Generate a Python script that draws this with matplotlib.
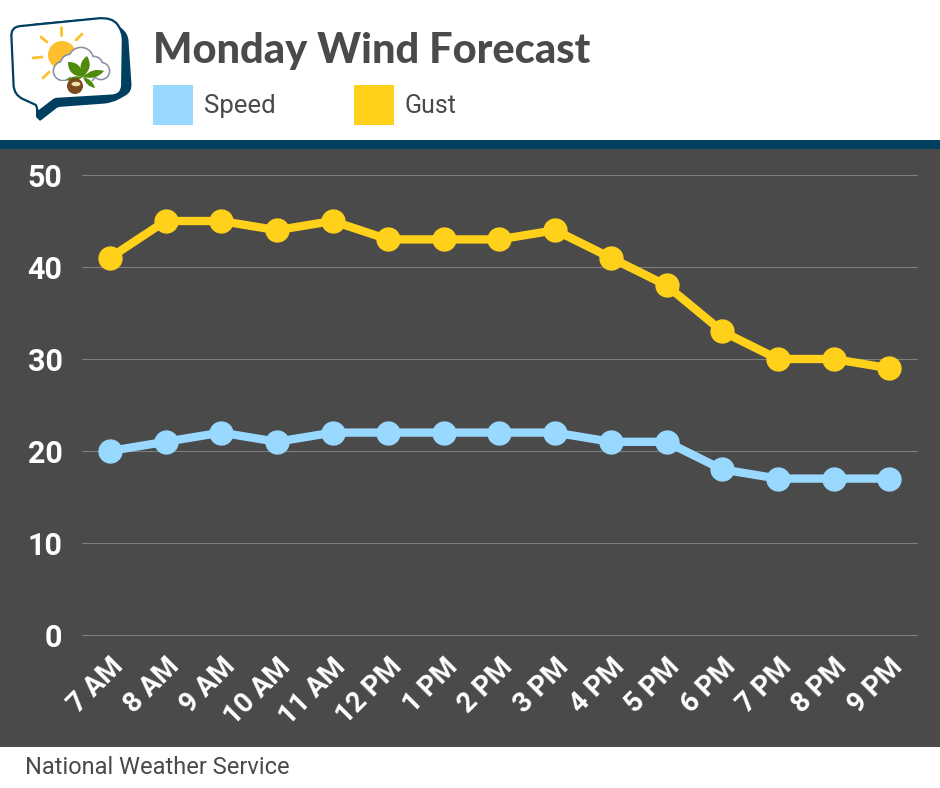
import matplotlib
matplotlib.use("Agg")
import matplotlib.pyplot as plt
import matplotlib.patches as mpatches
from matplotlib.path import Path
import numpy as np

hours = ["7 AM", "8 AM", "9 AM", "10 AM", "11 AM", "12 PM", "1 PM", "2 PM",
         "3 PM", "4 PM", "5 PM", "6 PM", "7 PM", "8 PM", "9 PM"]
speed = [20, 21, 22, 21, 22, 22, 22, 22, 22, 21, 21, 18, 17, 17, 17]
gust = [41, 45, 45, 44, 45, 43, 43, 43, 44, 41, 38, 33, 30, 30, 29]
y_ticks = [0, 10, 20, 30, 40, 50]

W, H = 940, 788
DARK = "#4a4a4a"
NAVY = "#003f5f"
SPEED_C = "#99d9ff"
GUST_C = "#ffd11a"
SUN = "#fdbf2d"
LEAF = "#4f8a0b"
FONT = "Roboto"

fig = plt.figure(figsize=(W / 100, H / 100), dpi=100, facecolor="white")

# background layer in pixel coords
bg = fig.add_axes([0, 0, 1, 1])
bg.set_xlim(0, W)
bg.set_ylim(H, 0)
bg.axis("off")
bg.add_patch(mpatches.Rectangle((0, 140), W, 9, color=NAVY, lw=0))
bg.add_patch(mpatches.Rectangle((0, 149), W, 598, color=DARK, lw=0))

# header
bg.text(153, 51, "Monday Wind Forecast", fontsize=30, fontweight="black",
        color=DARK, family="Lato", va="center", ha="left")
bg.add_patch(mpatches.Rectangle((153, 85), 40, 40, color=SPEED_C, lw=0))
bg.add_patch(mpatches.Rectangle((354, 85), 40, 40, color=GUST_C, lw=0))
bg.text(204, 106, "Speed", fontsize=18.5, color=DARK, family=FONT, va="center")
bg.text(405, 106, "Gust", fontsize=18, color=DARK, family=FONT, va="center")
bg.text(25, 767, "National Weather Service", fontsize=17, color=DARK,
        family=FONT, va="center")


def rounded(pts, radii, **kw):
    # closed polygon whose corners are cut with quadratic curves
    pts = [np.array(p, float) for p in pts]
    n = len(pts)
    verts, codes = [], []
    for i, p in enumerate(pts):
        a = pts[i - 1] - p
        b = pts[(i + 1) % n] - p
        r = radii[i]
        start = p + a / np.linalg.norm(a) * min(r, np.linalg.norm(a) / 2)
        end = p + b / np.linalg.norm(b) * min(r, np.linalg.norm(b) / 2)
        verts += [start, p, end]
        codes += [Path.MOVETO if i == 0 else Path.LINETO, Path.CURVE3, Path.CURVE3]
    verts.append(verts[0])
    codes.append(Path.CLOSEPOLY)
    bg.add_patch(mpatches.PathPatch(Path(verts, codes), **kw))


def leaf(base, tip, width):
    base, tip = np.array(base, float), np.array(tip, float)
    d = tip - base
    n = np.array([-d[1], d[0]]) / np.linalg.norm(d) * width
    mid = base + d * 0.55
    path = Path([base, mid + n, tip, mid - n, base],
                [Path.MOVETO, Path.CURVE3, Path.CURVE3, Path.CURVE3, Path.CURVE3])
    bg.add_patch(mpatches.PathPatch(path, facecolor=LEAF, edgecolor="none"))


# logo: speech bubble with shadow, sun, cloud, leaves, chestnut
rounded([(30, 24), (106, 17), (128, 33), (132, 92), (112, 103), (58, 107),
         (40, 121), (36, 117), (36, 100), (20, 90)],
        [6, 12, 8, 8, 8, 2, 1, 1, 6, 6],
        facecolor=NAVY, edgecolor="none")
rounded([(11, 27), (112, 17), (123, 32), (122, 95), (55, 99), (38, 112),
         (36, 105), (14, 95)],
        [9, 14, 9, 10, 2, 1, 1, 10],
        facecolor="white", edgecolor=NAVY, lw=1.6)
bg.add_patch(mpatches.Circle((62, 55), 14, color=SUN, lw=0))
for x0, y0, x1, y1 in [(61, 27, 61, 35), (41, 37, 47, 42), (33, 58, 42, 57),
                       (43, 78, 49, 72), (76, 40, 82, 34)]:
    bg.plot([x0, x1], [y0, y1], color=SUN, lw=2, solid_capstyle="round")

# cloud outline, grey rim first and white inside on top
cloud = [(63, 71, 9), (70, 64, 9), (81, 60, 12), (94, 65, 8), (101, 71, 8), (82, 72, 13)]
for cx, cy, r in cloud:
    bg.add_patch(mpatches.Circle((cx, cy), r + 1.4, color="#8a8fa3", lw=0))
for cx, cy, r in cloud:
    bg.add_patch(mpatches.Circle((cx, cy), r - 0.2, color="white", lw=0))
bg.add_patch(mpatches.Rectangle((60, 81), 45, 12, color="white", lw=0))

for tip, w in [((68, 62), 10), ((87, 56), 9), ((104, 71), 7), ((66, 80), 4), ((95, 88), 5)]:
    leaf((83, 77), tip, w)
bg.add_patch(mpatches.Circle((75, 86), 8, color="#7a4a1c", lw=0))
bg.add_patch(mpatches.Ellipse((76, 84), 9, 4.5, color="#f2e2a8", lw=0))

# chart axes lined up with the band positions of the categories
ax = fig.add_axes([82 / W, 1 - 635 / H, 835 / W, 460 / H])
ax.patch.set_alpha(0)
xs = range(len(hours))
ax.plot(xs, speed, color=SPEED_C, lw=6, marker="o", ms=16.5, clip_on=False, zorder=3)
ax.plot(xs, gust, color=GUST_C, lw=6, marker="o", ms=16.5, clip_on=False, zorder=4)
ax.set_xlim(-0.5, 14.5)
ax.set_ylim(0, 50)
ax.set_yticks(y_ticks)
ax.set_xticks(list(xs))
ax.set_yticklabels(y_ticks, fontsize=22, fontweight="bold", color="white", family=FONT)
ax.set_xticklabels(hours, fontsize=20, fontweight="bold", color="white", family=FONT,
                   rotation=45, ha="right", rotation_mode="anchor")
ax.tick_params(axis="both", length=0)
ax.tick_params(axis="y", pad=14)
ax.tick_params(axis="x", pad=13)
ax.grid(axis="y", color="#7d7d7d", lw=0.8, clip_on=False)
ax.set_axisbelow(True)
for s in ax.spines.values():
    s.set_visible(False)

fig.savefig("out.png", dpi=100)
